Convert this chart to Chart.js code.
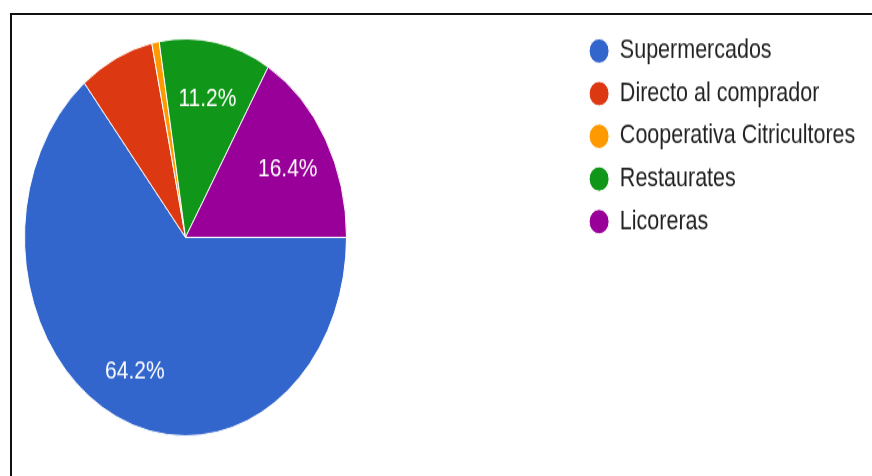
<!DOCTYPE html>
<html>
<head>
<meta charset="utf-8">
<script src="https://cdn.jsdelivr.net/npm/chart.js@4.4.1/dist/chart.umd.min.js"></script>
<style>
	body { margin: 0; background: #fff; }
	#wrap { position: relative; width: 872px; height: 476px; overflow: hidden; background: #fff; }
	#frame { position: absolute; left: 10px; top: 13px; right: -10px; bottom: -10px; border-top: 2px solid #111; border-left: 2px solid #111; }
	/* the picture is stretched vertically, so the chart is too */
	#box { position: absolute; left: 0; top: 0; width: 872px; height: 386px; transform: scale(1, 1.233); transform-origin: 0 0; }
</style>
</head>
<body>
<div id="wrap">
	<div id="frame"></div>
	<div id="box"><canvas id="pie"></canvas></div>
</div>
<script>

	/* Pie data */

	var categories = ['Supermercados', 'Directo al comprador', 'Cooperativa Citricultores', 'Restaurates', 'Licoreras'];
	var counts = [86, 10, 1, 15, 22];
	var colors = ['#3366cc', '#dc3912', '#ff9900', '#109618', '#990099'];

	var total = counts.reduce(function(a, b) { return a + b; }, 0);

	var fontFamily = '"Liberation Sans", Arial, sans-serif';
	var legendFont = 21.5;
	var legendPad = 13.1;
	var dotWidth = 20;

	// how wide the legend will be, so the pie keeps its own box
	var measure = document.createElement('canvas').getContext('2d');
	measure.font = legendFont + 'px ' + fontFamily;
	var widest = 0;
	categories.forEach(function(c) {
		widest = Math.max(widest, measure.measureText(c).width);
	});
	var legendWidth = legendPad + dotWidth + legendFont / 2 + widest + 10;
	var pieRight = 347;

	// put the legend where it sits in the picture
	var legendSpot = {
		id: 'legendSpot',
		afterLayout: function(chart) {
			var lg = chart.legend;
			var w = lg.width, h = lg.height;
			lg.left = 576;
			lg.right = lg.left + w;
			lg.top = 17.5;
			lg.bottom = lg.top + h;
		}
	};

	// percent text inside the big slices
	var sliceLabels = {
		id: 'sliceLabels',
		afterDatasetsDraw: function(chart) {
			var ctx = chart.ctx;
			var meta = chart.getDatasetMeta(0);
			ctx.save();
			ctx.font = '21px ' + fontFamily;
			ctx.fillStyle = '#ffffff';
			ctx.textAlign = 'center';
			ctx.textBaseline = 'middle';
			meta.data.forEach(function(arc, i) {
				var pct = counts[i] / total * 100;
				if (pct < 10) return;
				var p = arc.getProps(['x', 'y', 'startAngle', 'endAngle', 'outerRadius'], true);
				var mid = (p.startAngle + p.endAngle) / 2;
				var r = p.outerRadius * 0.73;
				ctx.fillText(pct.toFixed(1) + '%', p.x + Math.cos(mid) * r, p.y + Math.sin(mid) * r + 3);
			});
			ctx.restore();
		}
	};

	var pieCtx = document.getElementById('pie');

	var pieChart = new Chart(pieCtx, {
		type: 'pie',
		data: {
			labels: categories,
			datasets: [{
				data: counts,
				backgroundColor: colors,
				borderColor: '#ffffff',
				borderWidth: 1
			}]
		},
		options: {
			responsive: true,
			maintainAspectRatio: false,
			animation: false,
			rotation: 90,
			layout: {
				padding: { left: 24, top: 31, bottom: 32, right: Math.max(0, 872 - pieRight - legendWidth) }
			},
			plugins: {
				legend: {
					position: 'right',
					align: 'start',
					labels: {
						usePointStyle: true,
						pointStyle: 'circle',
						pointStyleWidth: dotWidth,
						boxHeight: 14.14,
						padding: legendPad,
						color: '#222222',
						font: { family: fontFamily, size: legendFont }
					}
				},
				tooltip: { enabled: false }
			}
		},
		plugins: [legendSpot, sliceLabels]
	});

</script>
</body>
</html>
